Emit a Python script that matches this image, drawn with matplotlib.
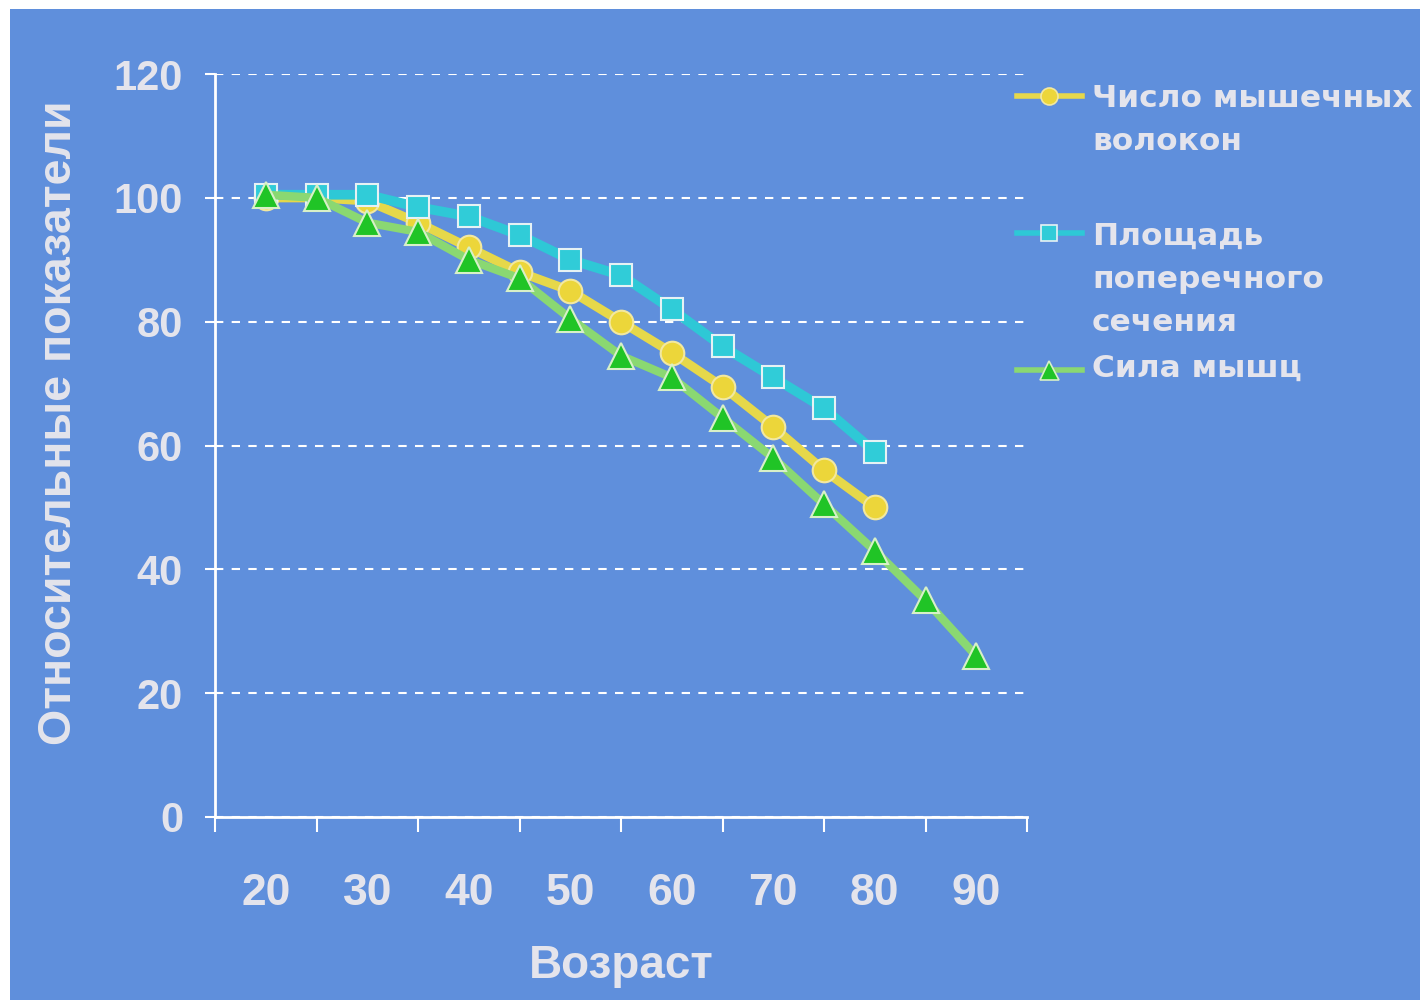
import matplotlib.pyplot as plt
from matplotlib.lines import Line2D
from matplotlib.patches import Rectangle

# ages on the category axis and relative values (20 years = 100)
ages = [20, 25, 30, 35, 40, 45, 50, 55, 60, 65, 70, 75, 80, 85, 90]
fibers = [100, 100, 99.5, 96, 92, 88, 85, 80, 75, 69.5, 63, 56, 50]
area = [100.5, 100.5, 100.5, 98.5, 97, 94, 90, 87.5, 82, 76, 71, 66, 59]
strength = [100.5, 100, 96, 94.5, 90, 87, 80.5, 74.5, 71, 64.5, 58, 50.5, 43, 35, 26]

legend_lines = [
    ["Число мышечных", "волокон"],
    ["Площадь", "поперечного", "сечения"],
    ["Сила мышц"],
]
x_labels = [20, 30, 40, 50, 60, 70, 80, 90]
x_minor = [15, 25, 35, 45, 55, 65, 75, 85, 95]
y_ticks = [0, 20, 40, 60, 80, 100, 120]

BG = "#5f8fdc"
TXT = "#e4e4ec"
FONT = ["Liberation Sans", "DejaVu Sans"]

plt.rcParams["font.family"] = FONT
plt.rcParams["font.weight"] = "bold"

W, H = 1420, 1000
fig = plt.figure(figsize=(W / 100, H / 100), dpi=100, facecolor="white")
fig.add_artist(Rectangle((10 / W, 0), 1 - 10 / W, 1 - 9 / H, transform=fig.transFigure,
                         facecolor=BG, edgecolor="none", zorder=0))

ax = fig.add_axes([215 / W, 183 / H, 812 / W, 743 / H])
ax.set_facecolor("none")
ax.set_xlim(15, 95)
ax.set_ylim(0, 120)

styles = [
    dict(color="#e6d84a", marker="o", ms=17, mfc="#ecd63a", mec="#f2e8a0"),
    dict(color="#2ec8d6", marker="s", ms=16, mfc="#30ccd8", mec="#e6f2f4"),
    dict(color="#8ad872", marker="^", ms=19, mfc="#20c426", mec="#d8f0c8"),
]
widths = [6.5, 7, 6]
series = [fibers, area, strength]
for vals, st, lw in zip(series, styles, widths):
    ax.plot(ages[:len(vals)], vals, lw=lw, mew=1.5, clip_on=False, zorder=3, **st)

# axes look
ax.set_yticks(y_ticks)
ax.set_yticklabels([str(v) for v in y_ticks])
ax.set_xticks(x_labels)
ax.set_xticklabels([str(v) for v in x_labels])
ax.set_xticks(x_minor, minor=True)
ax.tick_params(axis="x", which="major", length=0, pad=40, labelsize=32, labelcolor=TXT)
ax.tick_params(axis="x", which="minor", length=11, width=1.5, color="white", direction="out")
ax.tick_params(axis="y", length=7, width=1.5, color="white", pad=16, labelsize=30, labelcolor=TXT)
for lab in ax.get_xticklabels() + ax.get_yticklabels():
    lab.set_fontweight("bold")

ax.yaxis.grid(True, color="white", linestyle=(0, (4, 4)), linewidth=1.5)
ax.set_axisbelow(True)
for side in ("top", "right"):
    ax.spines[side].set_visible(False)
for side in ("left", "bottom"):
    ax.spines[side].set_color("white")
    ax.spines[side].set_linewidth(2)

fig.text(621 / W, 1 - 978 / H, "Возраст", ha="center", va="baseline",
         fontsize=33, color=TXT, fontweight="bold")
fig.text(59 / W, 1 - 423 / H, "Относительные показатели", ha="center", va="center",
         rotation=90, fontsize=33.5, color=TXT, fontweight="bold")

# legend, drawn by hand to match the slide layout
handle_y = [96, 233, 370]
first_base = [107, 245, 377]
line_step = 43
for st, hy, base, lines in zip(styles, handle_y, first_base, legend_lines):
    yy = 1 - hy / H
    leg_st = dict(st)
    leg_st["ms"] = st["ms"] * 0.72
    fig.add_artist(Line2D([1017 / W, 1049 / W, 1082 / W], [yy, yy, yy], lw=4,
                          markevery=[1], mew=1.2, transform=fig.transFigure, **leg_st))
    for i, s in enumerate(lines):
        fig.text(1092 / W, 1 - (base + i * line_step) / H, s, ha="left", va="baseline",
                 fontsize=22.5, color=TXT, fontweight="bold",
                 family=["DejaVu Sans", "Liberation Sans"])

fig.savefig("out.png", dpi=100, facecolor="white")
